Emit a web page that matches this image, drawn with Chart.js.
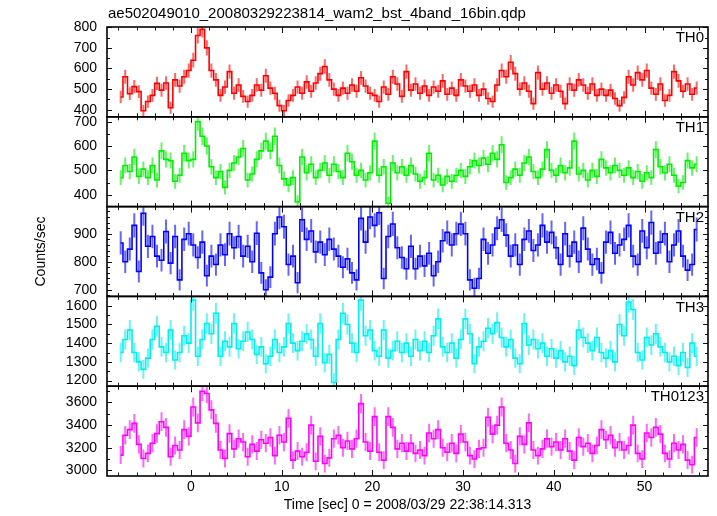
<!DOCTYPE html>
<html>
<head>
<meta charset="utf-8">
<script src="https://cdn.jsdelivr.net/npm/chart.js@4.4.1/dist/chart.umd.min.js"></script>
<style>
  html, body { margin: 0; padding: 0; background: #fff; }
</style>
</head>
<body>
<canvas id="lc" width="717" height="516"></canvas>
<script>
// WAM light curve, 4 bands + sum, 0.5 s (16 x 1/32 s) bins
const fileName = 'ae502049010_20080329223814_wam2_bst_4band_16bin.qdp';
const xTitle = 'Time [sec] 0 = 2008/03/29 22:38:14.313';
const yTitle = 'Counts/sec';
const bands = ['TH0', 'TH1', 'TH2', 'TH3', 'TH0123'];
const tStart = -7.75, binSec = 0.5;   // centre of first bin, bin width

const th0 = [462,560,478,512,488,395,440,470,528,495,530,410,545,515,560,590,
  640,760,790,700,590,545,470,510,585,480,520,465,440,470,520,495,
  565,505,480,420,395,445,470,510,480,535,490,530,575,610,545,500,
  470,505,480,520,490,555,515,480,470,440,510,475,560,525,465,585,
  495,525,480,515,470,510,490,540,475,505,470,545,515,490,520,470,
  500,455,440,520,590,560,630,575,500,530,490,430,580,500,530,480,
  520,490,430,525,495,545,520,480,525,470,500,470,495,455,420,460,
  560,520,580,545,590,505,475,525,445,470,585,540,490,525,475,505];
const th1 = [470,520,495,555,475,505,470,520,460,580,545,540,455,480,570,540,
  545,700,640,600,515,470,495,430,500,530,555,590,460,485,545,580,
  620,580,640,520,465,440,470,370,555,490,525,470,500,530,480,525,
  495,470,570,535,480,500,460,490,620,480,515,365,530,490,515,480,
  520,485,455,470,570,460,480,440,475,455,480,500,475,515,540,520,
  550,525,570,545,605,450,470,505,480,530,555,495,470,505,585,500,
  480,520,490,510,620,485,500,460,500,475,545,510,490,520,500,480,
  510,470,495,455,490,470,585,515,490,525,480,435,450,540,510,525];
const th2 = [867,800,845,930,765,973,855,890,820,805,908,795,890,735,880,900,
  860,815,870,750,820,790,860,825,900,850,890,820,855,800,902,760,
  700,745,900,960,925,790,820,725,950,880,910,835,870,825,880,845,
  820,780,810,760,735,955,870,960,930,975,740,890,935,850,815,775,
  855,775,820,785,830,750,800,875,905,860,900,935,900,735,705,740,
  880,830,860,920,950,895,820,860,790,880,910,840,860,930,870,905,
  850,790,900,820,870,800,920,845,790,810,760,870,905,830,860,880,
  930,820,790,910,850,940,830,870,900,800,860,910,820,770,790,915];
const th3 = [1350,1420,1470,1350,1300,1260,1320,1420,1490,1380,1350,1470,1310,1350,1440,1400,
  1630,1330,1420,1505,1450,1560,1330,1410,1380,1505,1370,1410,1460,1420,1340,1380,
  1290,1330,1420,1350,1380,1505,1400,1360,1410,1450,1420,1330,1505,1295,1340,1190,
  1420,1560,1500,1400,1350,1630,1440,1470,1360,1330,1470,1320,1360,1410,1350,1400,
  1330,1420,1360,1410,1350,1440,1530,1380,1350,1400,1320,1420,1530,1450,1290,1380,
  1410,1480,1450,1510,1430,1380,1420,1320,1290,1505,1390,1420,1370,1400,1330,1370,
  1320,1360,1300,1330,1280,1470,1430,1400,1360,1430,1350,1320,1360,1300,1500,1440,
  1620,1580,1350,1310,1430,1390,1450,1380,1350,1300,1330,1280,1350,1270,1400,1330];
const th0123 = [3135,3310,3360,3415,3230,3105,3150,3240,3325,3430,3380,3120,3220,3180,3360,3300,
  3560,3420,3700,3680,3535,3415,3180,3105,3325,3190,3280,3250,3120,3230,3170,3270,
  3240,3290,3130,3310,3250,3460,3090,3170,3120,3160,3400,3080,3300,3060,3110,3280,
  3310,3200,3260,3190,3280,3590,3250,3170,3475,3160,3090,3475,3380,3190,3240,3170,
  3240,3150,3180,3130,3330,3280,3360,3200,3160,3240,3150,3320,3250,3130,3100,3190,
  3200,3470,3320,3400,3560,3240,3180,3060,3300,3230,3420,3180,3130,3190,3280,3210,
  3250,3180,3280,3170,3090,3290,3210,3240,3150,3220,3360,3270,3310,3200,3250,3180,
  3220,3400,3150,3100,3330,3290,3380,3320,3150,3100,3240,3180,3230,3090,3050,3290];

const series = [th0, th1, th2, th3, th0123];
const yMin = [366, 351, 676, 1170, 2950];
const yMax = [801, 720, 997, 1650, 3744];
const yMajor = [100, 100, 100, 100, 200];
const yMinor = [50, 50, 20, 50, 100];
const colors = ['#ff0000', '#00ee00', '#0000ff', '#00eeee', '#ff00ff'];

const FONT = '"Liberation Sans", Arial, sans-serif';
const times = th0.map((_, i) => tStart + i * binSec);

// frames, inside ticks, panel names, error bars (Poisson sigma of each bin)
const qdpPanels = {
  id: 'qdpPanels',
  beforeDatasetDraw(chart, args) {
    const sc = chart.scales['y' + args.index], ca = chart.chartArea, ctx = chart.ctx;
    ctx.save();
    ctx.beginPath();
    ctx.rect(ca.left, sc.top, ca.right - ca.left, sc.bottom - sc.top);
    ctx.clip();
  },
  afterDatasetDraw(chart, args) {
    const ctx = chart.ctx, i = args.index;
    const sc = chart.scales['y' + i], xs = chart.scales.x;
    ctx.strokeStyle = colors[i];
    ctx.globalAlpha = 0.6;
    ctx.lineWidth = 2;
    ctx.beginPath();
    chart.data.datasets[i].data.forEach(p => {
      const err = Math.sqrt(p.y * binSec) / binSec;
      const x = xs.getPixelForValue(p.x);
      ctx.moveTo(x, sc.getPixelForValue(p.y - err));
      ctx.lineTo(x, sc.getPixelForValue(p.y + err));
    });
    ctx.stroke();
    ctx.restore();
  },
  afterDatasetsDraw(chart) {
    const ctx = chart.ctx, ca = chart.chartArea, xs = chart.scales.x;
    ctx.save();
    ctx.strokeStyle = '#111';
    ctx.lineWidth = 1;
    bands.forEach((b, i) => {
      const sc = chart.scales['y' + i];
      ctx.beginPath();
      for (let t = Math.ceil(xs.min / 2) * 2; t <= xs.max; t += 2) {
        const x = Math.round(xs.getPixelForValue(t)) + 0.5;
        const len = t % 10 === 0 ? 6 : 3.5;
        ctx.moveTo(x, sc.top); ctx.lineTo(x, sc.top + len);
        ctx.moveTo(x, sc.bottom); ctx.lineTo(x, sc.bottom - len);
      }
      for (let v = Math.ceil(yMin[i] / yMinor[i]) * yMinor[i]; v <= yMax[i]; v += yMinor[i]) {
        const y = Math.round(sc.getPixelForValue(v)) + 0.5;
        const len = v % yMajor[i] === 0 ? 5 : 3;
        ctx.moveTo(ca.left, y); ctx.lineTo(ca.left + len, y);
        ctx.moveTo(ca.right, y); ctx.lineTo(ca.right - len, y);
      }
      ctx.stroke();
    });
    ctx.lineWidth = 1.6;
    ctx.strokeStyle = '#000';
    bands.forEach((b, i) => {
      const sc = chart.scales['y' + i];
      ctx.strokeRect(ca.left, sc.top, ca.right - ca.left, sc.bottom - sc.top);
    });
    ctx.fillStyle = '#000';
    ctx.font = '15px ' + FONT;
    ctx.textBaseline = 'middle';
    ctx.textAlign = 'right';
    bands.forEach((b, i) => {
      const sc = chart.scales['y' + i];
      ctx.fillText(b, ca.right - 4, sc.top + 11);
    });
    ctx.textAlign = 'left';
    ctx.fillText(fileName, ca.left + 1, 14);
    ctx.restore();
  }
};

const scales = {
  x: {
    type: 'linear', min: -9.26, max: 57.0,
    grid: { display: false, drawTicks: false }, border: { display: false },
    ticks: { stepSize: 10, includeBounds: false, padding: 3, maxRotation: 0, color: '#000', font: { family: FONT, size: 14 } },
    title: { display: true, text: xTitle, color: '#000', font: { family: FONT, size: 14 }, padding: { top: 0, bottom: 2 } },
    afterFit: s => { s.height = 40; }
  }
};
// stacked left axes are placed top-down from the last defined, so add TH0123 first
for (let i = bands.length - 1; i >= 0; i--) {
  scales['y' + i] = {
    type: 'linear', position: 'left', stack: 'lc', stackWeight: 1,
    min: yMin[i], max: yMax[i],
    grid: { display: false, drawTicks: false }, border: { display: false },
    ticks: { autoSkip: false, padding: 10, color: '#000', font: { family: FONT, size: 14 }, callback: v => String(v) },
    afterBuildTicks: s => {
      const t = [];
      for (let v = Math.ceil(yMin[i] / yMajor[i]) * yMajor[i]; v <= yMax[i]; v += yMajor[i]) t.push({ value: v });
      s.ticks = t;
    },
    title: { display: i === 2, text: yTitle, color: '#000', font: { family: FONT, size: 14 }, padding: { top: 33, bottom: 0 } },
    afterFit: s => { s.width = 107; }
  };
}

new Chart(document.getElementById('lc'), {
  type: 'line',
  data: {
    datasets: series.map((vals, i) => ({
      label: bands[i],
      data: vals.map((v, k) => ({ x: times[k], y: v })),
      yAxisID: 'y' + i,
      borderColor: colors[i],
      borderWidth: 1.6,
      stepped: 'middle',
      pointRadius: 0,
      fill: false
    }))
  },
  options: {
    responsive: false,
    animation: false,
    layout: { padding: { top: 27, right: 9, left: 0, bottom: 0 } },
    plugins: { legend: { display: false }, tooltip: { enabled: false } },
    scales
  },
  plugins: [qdpPanels]
});
</script>
</body>
</html>
